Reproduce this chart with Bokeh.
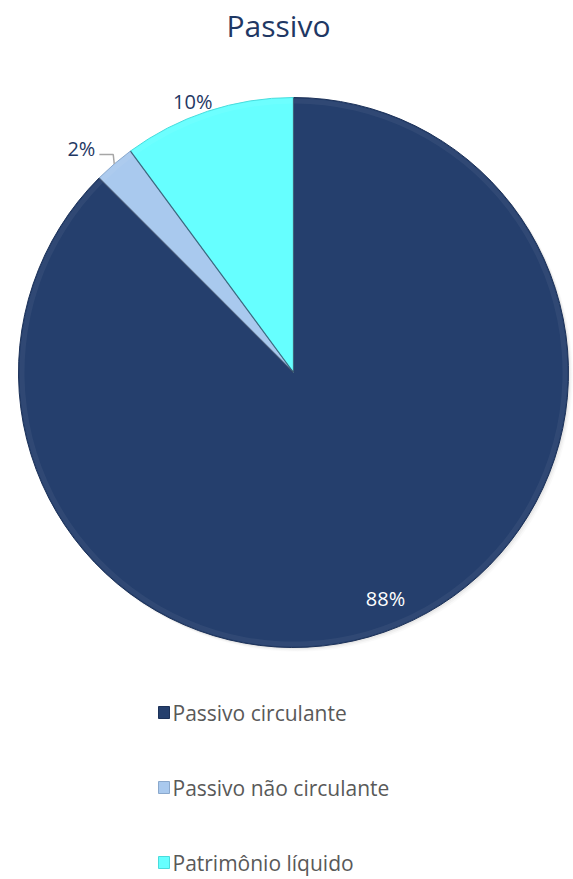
import math
from bokeh.plotting import figure
from bokeh.models import Range1d
from bokeh.core.properties import value
from bokeh.embed import file_html
from bokeh.resources import INLINE

# ---- data ----
title = "Passivo"
categories = ["Passivo circulante", "Passivo não circulante", "Patrimônio líquido"]
values = [87.5, 2.4, 10.1]
colors = ["#253F6D", "#A9C9EE", "#66FFFF"]
edge_colors = ["#1C3158", "#8AA8CC", "#4ADCDC"]

# ---- layout ----
W, H = 573, 879
FONT = "Open Sans"
p = figure(width=W, height=H, output_backend="svg", toolbar_location=None,
           x_range=Range1d(0, W), y_range=Range1d(-H, 0), min_border=0)
p.axis.visible = False
p.grid.visible = False
p.outline_line_color = None
p.background_fill_color = "white"
p.border_fill_color = "white"

cx, cy, R = 293, -372, 275

# soft shadow
for k, a in [(6, 0.04), (4, 0.06), (2, 0.08)]:
    p.circle(x=[cx + k * 0.6], y=[cy - k * 0.6], radius=R + 0.5, fill_color="#777777",
             fill_alpha=a, line_color=None)

total = sum(values)
angles = [math.pi / 2]
for v in values:
    angles.append(angles[-1] - v / total * 2 * math.pi)
starts = angles[:-1]
ends = angles[1:]

p.wedge(x=cx, y=cy, radius=R, start_angle=starts, end_angle=ends, direction="clock",
        fill_color=colors, line_color=edge_colors, line_width=1)
# subtle bevel highlight ring
p.annular_wedge(x=cx, y=cy, inner_radius=R - 6, outer_radius=R - 1, start_angle=starts,
                end_angle=ends, direction="clock", fill_color="white", fill_alpha=0.05,
                line_color=None)
# separators
for a in angles[:-1]:
    p.line(x=[cx, cx + R * math.cos(a)], y=[cy, cy + R * math.sin(a)],
           line_color="#3A4A66", line_width=1.2, line_alpha=0.8)

# ---- labels ----
label_r = [0.888, 1.123, 1.052]
label_da = [-0.35, 2.7, 2.2]
label_col = ["white", "#1F3864", "#1F3864"]
for i, v in enumerate(values):
    mid = (starts[i] + ends[i]) / 2 + math.radians(label_da[i])
    lx = cx + R * label_r[i] * math.cos(mid)
    ly = cy + R * label_r[i] * math.sin(mid)
    p.text(x=[lx], y=[ly], text=[f"{round(v / total * 100)}%"], text_align="center",
           text_baseline="middle", text_font=value(FONT), text_font_size="20px",
           text_color=label_col[i])
    if i == 1:
        mid0 = (starts[i] + ends[i]) / 2
        ex = cx + R * math.cos(mid0)
        ey = cy + R * math.sin(mid0)
        p.line(x=[lx + 18, ex - 1, ex], y=[ly - 6.5, ly - 6.5, ey],
               line_color="#A6A6A6", line_width=1.5)

# ---- title ----
p.text(x=[cx - 15], y=[-25], text=[title], text_align="center", text_baseline="middle",
       text_font=value(FONT), text_font_size="30px", text_color="#1F3864")

# ---- legend ----
for i, c in enumerate(categories):
    yy = -712 - 75 * i
    p.rect(x=[163.5], y=[yy], width=11, height=12, fill_color=colors[i],
           line_color=edge_colors[i], line_width=1)
    p.text(x=[172], y=[yy], text=[c], text_align="left", text_baseline="middle",
           text_font=value(FONT), text_font_size="21px", text_color="#595959")

open("out.html", "w").write(file_html(p, INLINE))
